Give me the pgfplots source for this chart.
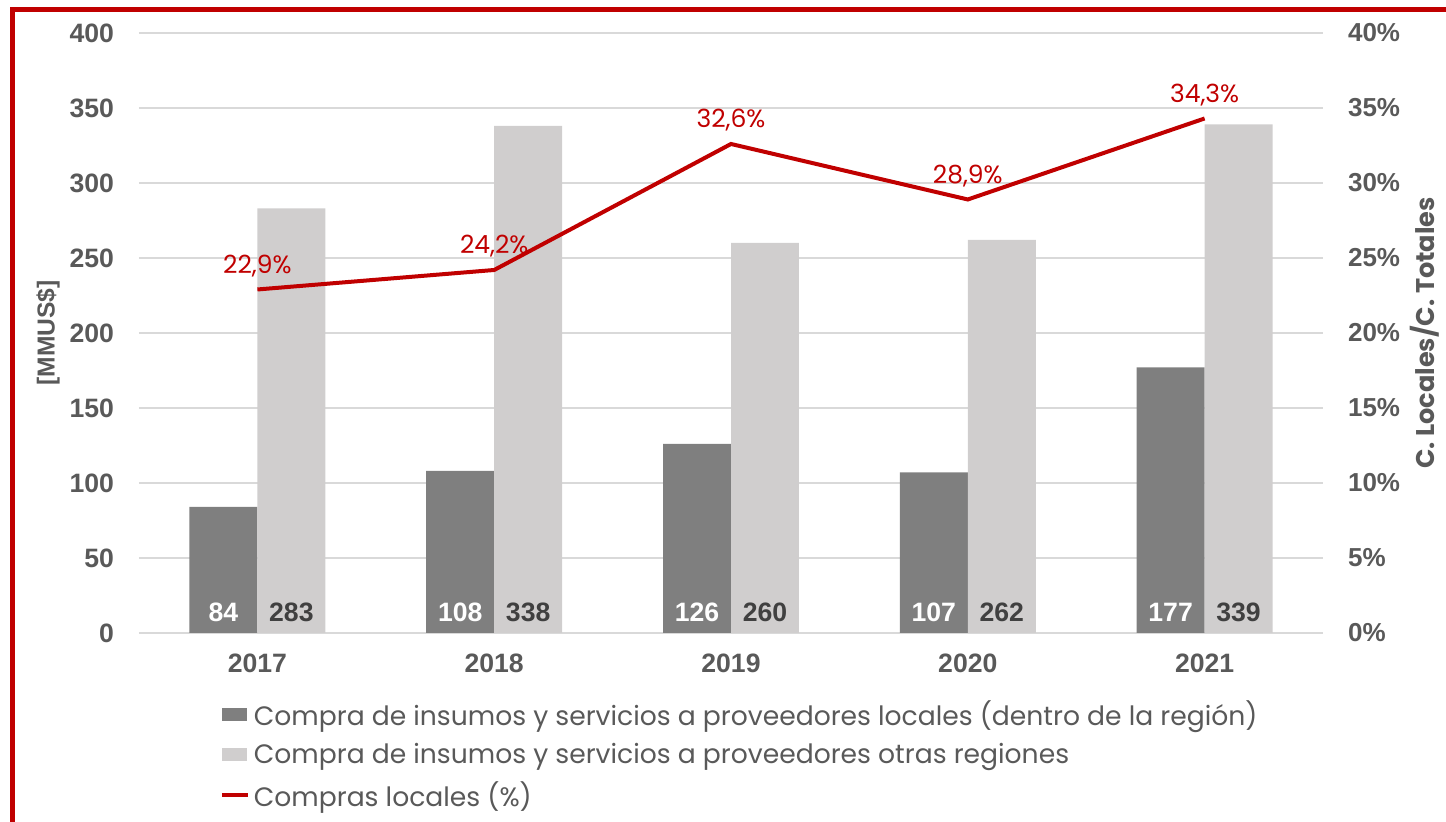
\documentclass[border=0pt]{standalone}
\usepackage{fontspec}
\usepackage{pgfplots}
\pgfplotsset{compat=1.18}
\usepackage{pgfplotstable}
\setmainfont{Poppins}
\newfontfamily\numfont{Liberation Sans}
\definecolor{dk}{HTML}{7F7F7F}
\definecolor{lt}{HTML}{D0CECE}
\definecolor{myred}{HTML}{C00000}
\definecolor{txt}{HTML}{595959}
\definecolor{lbl}{HTML}{404040}
\definecolor{gridc}{HTML}{D9D9D9}

\pgfplotstableread{
x local otras pct
0 84 283 22.9
1 108 338 24.2
2 126 260 32.6
3 107 262 28.9
4 177 339 34.3
}\datatable

\begin{document}
\begin{tikzpicture}
\path[use as bounding box] (0,0) rectangle (723pt,411pt);
\draw[myred, line width=2.5pt] (6.25pt,-2pt) -- (6.25pt,406.4pt) -- (725pt,406.4pt);
\begin{axis}[
  at={(69.5pt,94.5pt)}, anchor=south west,
  scale only axis, width=592pt, height=300pt,
  xmin=-0.5, xmax=4.5, ymin=0, ymax=400,
  xtick={0,...,4}, xticklabels={2017,2018,2019,2020,2021},
  ytick={0,50,...,400},
  axis line style={draw=none},
  major tick style={draw=none},
  ymajorgrids, grid style={gridc, line width=0.6pt},
  ticklabel style={font=\numfont\bfseries\fontsize{13.3}{16}\selectfont, text=txt},
  /pgf/number format/assume math mode=true,
  yticklabel style={xshift=-9pt},
  xticklabel style={yshift=-7pt},
  ylabel={[MMUS\$]},
  ylabel style={at={(axis description cs:-0.0769,0.5)}, anchor=center, font=\numfont\bfseries\fontsize{12.3}{14}\selectfont, text=txt},
  legend cell align=left,
  legend style={at={(axis description cs:0.068,-0.105)}, anchor=north west, draw=none, fill=none,
    font=\fontsize{13.3}{16}\selectfont, text=txt, row sep=3.5pt, inner sep=0pt},
]
\addplot[ybar, bar width=0.287, bar shift=-0.1435, fill=dk, draw=none,
  legend image code/.code={\fill[dk] (0pt,-3.25pt) rectangle (12.5pt,3.25pt);}]
  table[x=x,y=local]{\datatable};
\addlegendentry{Compra de insumos y servicios a proveedores locales (dentro de la región)}
\addplot[ybar, bar width=0.287, bar shift=0.1435, fill=lt, draw=none,
  legend image code/.code={\fill[lt] (0pt,-3.25pt) rectangle (12.5pt,3.25pt);}]
  table[x=x,y=otras]{\datatable};
\addlegendentry{Compra de insumos y servicios a proveedores otras regiones}
\addlegendimage{myred, line width=2pt, legend image code/.code={\draw[myred, line width=2pt] (0pt,0pt) -- (13pt,0pt);}}
\addlegendentry{Compras locales (\%)}
\addplot[draw=none, mark=none, forget plot, nodes near coords, point meta=explicit symbolic,
  every node near coord/.style={anchor=center, font=\numfont\bfseries\fontsize{13.3}{16}\selectfont, text=white}]
  table[x expr=\thisrow{x}-0.1435, y expr=14, meta=local]{\datatable};
\addplot[draw=none, mark=none, forget plot, nodes near coords, point meta=explicit symbolic,
  every node near coord/.style={anchor=center, font=\numfont\bfseries\fontsize{13.3}{16}\selectfont, text=lbl}]
  table[x expr=\thisrow{x}+0.1435, y expr=14, meta=otras]{\datatable};
\end{axis}
\begin{axis}[
  at={(69.5pt,94.5pt)}, anchor=south west,
  scale only axis, width=592pt, height=300pt,
  xmin=-0.5, xmax=4.5, ymin=0, ymax=40,
  hide x axis,
  axis y line*=right,
  y axis line style={draw=none},
  major tick style={draw=none},
  ytick={0,5,...,40},
  yticklabels={0\%,5\%,10\%,15\%,20\%,25\%,30\%,35\%,40\%},
  ticklabel style={font=\numfont\bfseries\fontsize{13}{16}\selectfont, text=txt},
  yticklabel style={xshift=9pt},
  /pgf/number format/assume math mode=true,
  ylabel={C. Locales/C. Totales},
  ylabel style={at={(axis description cs:1.0856,0.5)}, anchor=center, font=\bfseries\fontsize{12.8}{15}\selectfont, text=txt},
]
\addplot[myred, line width=2pt, mark=none,
  nodes near coords={\pgfmathprintnumber[fixed,fixed zerofill,precision=1,use comma]{\pgfplotspointmeta}\%},
  every node near coord/.append style={font=\fontsize{12.5}{15}\selectfont, text=myred, anchor=south, yshift=2pt}]
  table[x=x,y=pct]{\datatable};
\end{axis}
\end{tikzpicture}
\end{document}
